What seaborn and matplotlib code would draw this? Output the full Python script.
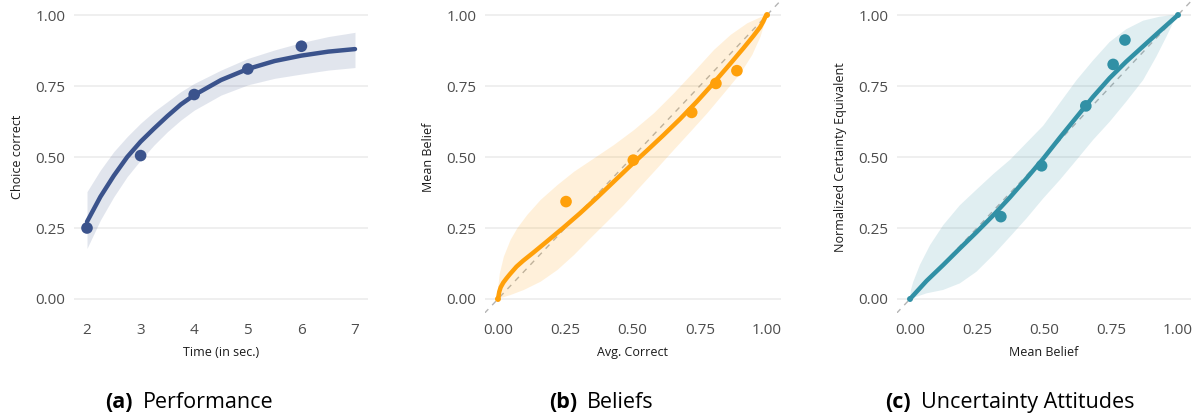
import numpy as np
import pandas as pd
import matplotlib
matplotlib.use("Agg")
import matplotlib.pyplot as plt
import seaborn as sns

# --- data ---
# (a) performance
time_pts = [2, 3, 4, 5, 6]
correct_pts = [0.25, 0.505, 0.72, 0.81, 0.89]
time_fit = [2, 2.25, 2.5, 2.75, 3, 3.25, 3.5, 3.75, 4, 4.5, 5, 5.5, 6, 6.5, 7]
correct_fit = [0.272, 0.36, 0.434, 0.50, 0.554, 0.60, 0.644, 0.685, 0.718, 0.771, 0.81, 0.838, 0.857, 0.871, 0.88]
correct_lo = [0.178, 0.278, 0.36, 0.431, 0.489, 0.542, 0.589, 0.63, 0.665, 0.718, 0.754, 0.777, 0.792, 0.806, 0.815]
correct_hi = [0.378, 0.454, 0.519, 0.572, 0.619, 0.66, 0.695, 0.73, 0.759, 0.806, 0.847, 0.877, 0.903, 0.924, 0.939]

# (b) beliefs
acc_pts = [0.253, 0.503, 0.72, 0.81, 0.888]
belief_pts = [0.343, 0.489, 0.657, 0.759, 0.804]
acc_fit = [0.0, 0.005, 0.01, 0.02, 0.032, 0.045, 0.069, 0.094, 0.131, 0.181, 0.243, 0.305, 0.367,
           0.429, 0.491, 0.553, 0.615, 0.677, 0.739, 0.80, 0.862, 0.912, 0.949, 0.974, 0.986, 0.994, 1.0]
belief_fit = [0.0, 0.026, 0.041, 0.058, 0.073, 0.088, 0.114, 0.135, 0.163, 0.202, 0.251, 0.302, 0.356,
              0.412, 0.468, 0.522, 0.577, 0.634, 0.695, 0.759, 0.827, 0.883, 0.926, 0.957, 0.977, 0.994, 1.0]
acc_hi_x = [0.0, 0.002, 0.007, 0.022, 0.047, 0.072, 0.109, 0.159, 0.221, 0.283, 0.357, 0.431,
            0.506, 0.58, 0.654, 0.729, 0.803, 0.865, 0.927, 0.976, 1.0]
belief_hi = [0.0, 0.05, 0.09, 0.149, 0.208, 0.249, 0.296, 0.349, 0.401, 0.448, 0.495, 0.542,
             0.595, 0.654, 0.724, 0.80, 0.877, 0.93, 0.971, 0.992, 1.0]
acc_lo_x = [0.0, 0.047, 0.097, 0.159, 0.221, 0.283, 0.344, 0.406, 0.468, 0.53, 0.592, 0.654,
            0.716, 0.778, 0.84, 0.902, 0.945, 0.976, 0.991, 1.0]
belief_lo = [0.0, 0.014, 0.032, 0.061, 0.102, 0.155, 0.214, 0.272, 0.331, 0.396, 0.46, 0.525,
             0.589, 0.654, 0.724, 0.795, 0.859, 0.924, 0.971, 1.0]

# (c) uncertainty attitudes
mb_pts = [0.339, 0.491, 0.656, 0.758, 0.802]
ce_pts = [0.29, 0.469, 0.68, 0.826, 0.912]
mb_fit = [0.0, 0.062, 0.124, 0.186, 0.248, 0.311, 0.373, 0.435, 0.497, 0.559, 0.621, 0.683,
          0.745, 0.807, 0.87, 0.932, 1.0]
ce_fit = [0.0, 0.064, 0.12, 0.178, 0.235, 0.295, 0.358, 0.425, 0.494, 0.568, 0.64, 0.712,
          0.778, 0.836, 0.89, 0.943, 1.0]
mb_hi_x = [0.0, 0.003, 0.012, 0.037, 0.075, 0.124, 0.186, 0.248, 0.311, 0.373, 0.435, 0.497,
           0.559, 0.621, 0.683, 0.745, 0.807, 0.87, 0.932, 0.981, 1.0]
ce_hi = [0.0, 0.03, 0.06, 0.12, 0.19, 0.26, 0.33, 0.385, 0.44, 0.49, 0.55, 0.61,
         0.69, 0.77, 0.84, 0.905, 0.95, 0.98, 0.994, 1.0, 1.0]
mb_lo_x = [0.0, 0.062, 0.124, 0.186, 0.248, 0.311, 0.373, 0.435, 0.497, 0.559, 0.621, 0.683,
           0.745, 0.807, 0.87, 0.919, 0.957, 0.981, 1.0]
ce_lo = [0.0, 0.02, 0.032, 0.055, 0.096, 0.155, 0.219, 0.284, 0.354, 0.419, 0.489, 0.56,
         0.624, 0.695, 0.771, 0.853, 0.924, 0.971, 1.0]

end_pts = [0.0, 1.0]

blue = "#3b538c"
orange = "#ffa00a"
teal = "#3190a5"

sns.set_theme(style="whitegrid")
plt.rcParams['font.family'] = ['Open Sans', 'DejaVu Sans']
plt.rcParams['grid.color'] = '#ebebeb'
plt.rcParams['grid.linewidth'] = 1.1

fig = plt.figure(figsize=(12.03, 4.19), dpi=100)
W, H = 1203, 419
bottom = (H - 313.2) / H
height = 312.4 / H
ax_a = fig.add_axes([73.6 / W, bottom, 294.8 / W, height])
ax_b = fig.add_axes([484.5 / W, bottom, 296 / W, height])
ax_c = fig.add_axes([896.6 / W, bottom, 294.8 / W, height])


def style(ax, xlabel, ylabel, xticks, xlabels):
    ax.set_facecolor("white")
    ax.grid(axis="x", visible=False)
    ax.grid(axis="y", visible=True)
    for s in ax.spines.values():
        s.set_visible(False)
    ax.set_ylim(-0.05, 1.05)
    ax.set_yticks([0, 0.25, 0.5, 0.75, 1.0])
    ax.set_yticklabels(["0.00", "0.25", "0.50", "0.75", "1.00"])
    ax.set_xticks(xticks)
    ax.set_xticklabels(xlabels)
    ax.tick_params(axis="both", length=0, labelsize=11, labelcolor="#4d4d4d")
    ax.tick_params(axis="y", pad=6)
    ax.tick_params(axis="x", pad=7)
    ax.set_xlabel(xlabel, fontsize=9, color="#1a1a1a", labelpad=6)
    ax.set_ylabel(ylabel, fontsize=9, color="#1a1a1a", labelpad=8)


def band(ax, xu, yu, xl, yl, color):
    # ribbon polygon: upper edge left->right, lower edge back right->left
    px = list(xu) + list(xl)[::-1]
    py = list(yu) + list(yl)[::-1]
    ax.fill(px, py, color=color, alpha=0.15, linewidth=0, zorder=1)


unit_ticks = [0, 0.25, 0.5, 0.75, 1.0]
unit_labels = ["0.00", "0.25", "0.50", "0.75", "1.00"]

# (a)
ax_a.fill_between(time_fit, correct_lo, correct_hi, color=blue, alpha=0.15, linewidth=0)
sns.lineplot(x=time_fit, y=correct_fit, ax=ax_a, color=blue, linewidth=3.2)
sns.scatterplot(x=time_pts, y=correct_pts, ax=ax_a, color=blue, s=70, edgecolor="none", zorder=3)
ax_a.set_xlim(1.75, 7.25)
style(ax_a, "Time (in sec.)", "Choice correct", [2, 3, 4, 5, 6, 7], ["2", "3", "4", "5", "6", "7"])

# (b)
ax_b.axline((0, 0), (1, 1), color="#b5b5b5", linestyle=(0, (4, 4)), linewidth=1.0, zorder=1)
band(ax_b, acc_hi_x, belief_hi, acc_lo_x, belief_lo, orange)
sns.lineplot(x=acc_fit, y=belief_fit, ax=ax_b, color=orange, linewidth=3.2, sort=False)
sns.scatterplot(x=end_pts, y=end_pts, ax=ax_b, color=orange, s=18, edgecolor="none", zorder=3)
sns.scatterplot(x=acc_pts, y=belief_pts, ax=ax_b, color=orange, s=70, edgecolor="none", zorder=3)
ax_b.set_xlim(-0.05, 1.05)
style(ax_b, "Avg. Correct", "Mean Belief", unit_ticks, unit_labels)

# (c)
ax_c.axline((0, 0), (1, 1), color="#b5b5b5", linestyle=(0, (4, 4)), linewidth=1.0, zorder=1)
band(ax_c, mb_hi_x, ce_hi, mb_lo_x, ce_lo, teal)
sns.lineplot(x=mb_fit, y=ce_fit, ax=ax_c, color=teal, linewidth=3.2, sort=False)
sns.scatterplot(x=end_pts, y=end_pts, ax=ax_c, color=teal, s=18, edgecolor="none", zorder=3)
sns.scatterplot(x=mb_pts, y=ce_pts, ax=ax_c, color=teal, s=70, edgecolor="none", zorder=3)
ax_c.set_xlim(-0.05, 1.05)
style(ax_c, "Mean Belief", "Normalized Certainty Equivalent", unit_ticks, unit_labels)

# captions
cap_y = (H - 408) / H
for tag, name, x_tag, x_name in [("(a)", "Performance", 133, 143),
                                 ("(b)", "Beliefs", 577, 587),
                                 ("(c)", "Uncertainty Attitudes", 911, 921)]:
    fig.text(x_tag / W, cap_y, tag, ha="right", va="baseline", fontsize=15.5, fontweight="bold", color="black")
    fig.text(x_name / W, cap_y, name, ha="left", va="baseline", fontsize=15.5, color="black")

plt.savefig("out.png", dpi=100)
